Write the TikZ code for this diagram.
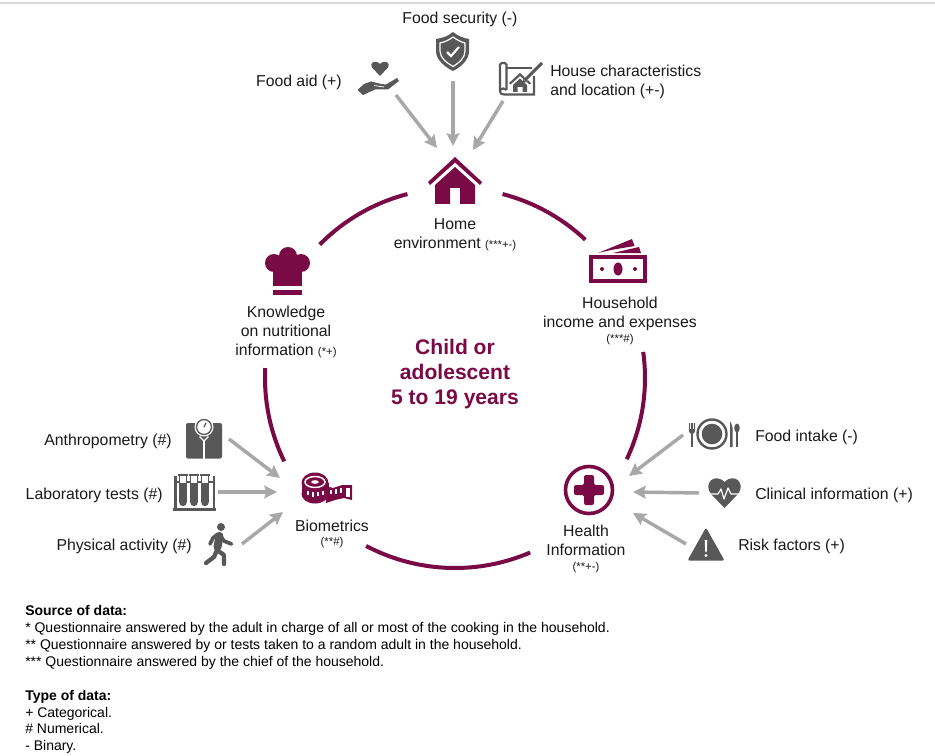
\documentclass[tikz,border=0pt]{standalone}
\usepackage{fontspec}
\setmainfont{Liberation Sans}
\usetikzlibrary{arrows.meta}
\definecolor{wine}{HTML}{7A0A45}
\definecolor{icongrey}{HTML}{585858}
\definecolor{arrowgrey}{HTML}{A8A8A8}
\definecolor{inktext}{HTML}{1A1A1A}
\newcommand{\tinyq}[1]{{\fontsize{8.5}{8.5}\selectfont #1}}
\tikzset{
  lbl/.style={text=inktext,inner sep=0pt,font=\fontsize{11.85}{14}\selectfont,align=center},
  lblw/.style={lbl,anchor=west,align=left},
  lble/.style={lbl,anchor=east,align=right},
  ring/.style={draw=wine,line width=3pt},
  feed/.style={draw=arrowgrey,line width=2.6pt,-{Stealth[length=9.5pt,width=9.5pt,inset=1.5pt]}},
  gicon/.style={fill=icongrey,draw=none},
  wicon/.style={fill=wine,draw=none},
  gline/.style={draw=icongrey,line width=1.6pt},
  wcut/.style={draw=white,line width=1pt}
}
\begin{document}
\begin{tikzpicture}[x=0.75pt,y=-0.75pt]
\useasboundingbox (0,0) rectangle (935,756);
\fill[white] (0,0) rectangle (935,756);
\draw[draw=black!15,line width=1.4pt] (0,3) -- (935,3);
% ring
\foreach \a/\b in {224.6/255.5,284.5/313.3,-7.9/25.3,66.7/117.9,154/183}{
  \draw[ring] plot[domain=\a:\b,samples=40,smooth] ({455+190*cos(\x)},{378+190*sin(\x)});
}
% ---------- wine icons
% home
\fill[wicon] (455,157)--(482,182)--(480,185)--(455,162.5)--(430,185)--(428,182)--cycle;
\fill[wicon] (455,167)--(475,185)--(475,204)--(460,204)--(460,188)--(450,188)--(450,204)--(435,204)--(435,185)--cycle;
% chef hat
\fill[wicon] (288,256) circle (9);
\fill[wicon] (274,263) circle (9);
\fill[wicon] (301,263) circle (9);
\fill[wicon] (273,262) rectangle (302,286);
\fill[wicon] (273,290) rectangle (302,295);
% money
\fill[wicon] (589,255) rectangle (647,283);
\fill[white] (593,259) rectangle (643,279);
\fill[wicon] (618,269) ellipse (4.5 and 6.5);
\fill[wicon] (602,269) circle (2);
\fill[wicon] (635,269) circle (2);
\fill[wicon] (598,253)--(632,239)--(634.5,246)--(611,250)--cycle;
\fill[wicon] (613,253)--(639,247)--(641,253)--cycle;
% tape measure
\fill[wicon] (326,486)--(333,488)--(342,485)--(352,485)--(352,500)--(344,498)--(335,500)--(326,503)--cycle;
\fill[wicon] (315,483) ellipse (13.5 and 10.5);
\fill[wicon] (301.5,483) rectangle (328.5,494);
\fill[wicon] (315,494) ellipse (13.5 and 9.5);
\draw[white,line width=1.1pt] (315,482) ellipse (10 and 5.5);
\fill[white] (315,482) ellipse (3.8 and 1.8);
\draw[white,line width=1.2pt] (308,491)--(308,495) (313,492)--(313,496.5) (318,492)--(318,496) (323,491)--(323,495);
\draw[white,line width=1.2pt] (331,490)--(331,494) (336,489)--(336,494) (341,488)--(341,493);
\fill[white] (346,488) rectangle (349.5,497);
% health
\draw[wine,line width=2.7pt] (589,490) circle (23.5);
\fill[wicon,rounded corners=1.5pt] (584,475)--(594,475)--(594,485)--(604,485)--(604,495)--(594,495)--(594,505)--(584,505)--(584,495)--(574,495)--(574,485)--(584,485)--cycle;
% ---------- grey icons
% hand + heart
\fill[gicon] (380,76)--(372,67.5) .. controls (369,63) and (375,59) .. (380,64) .. controls (385,59) and (391,63) .. (388,67.5)--cycle;
\fill[gicon] (357.5,90)--(364,84)--(371,81.5)--(381,84)--(386,84.5)--(397,78)--(399,81)--(388,89.5)--(375,89.5)--(363,95)--cycle;
\draw[white,line width=.6pt] (374,85.5)--(384,87);
% shield
\fill[gicon] (453,32) .. controls (458,36) and (463,38) .. (469,39) -- (469,51) .. controls (469,60) and (461,67) .. (453,71) .. controls (445,67) and (436,60) .. (436,51) -- (436,39) .. controls (443,38) and (448,36) .. (453,32) -- cycle;
\draw[white,line width=.9pt] (453,37) .. controls (457,40) and (461,42) .. (465,43) -- (465,51) .. controls (465,58) and (459,63) .. (453,66.5) .. controls (447,63) and (440,58) .. (440,51) -- (440,43) .. controls (445,42) and (449,40) .. (453,37) -- cycle;
\draw[white,line width=1.6pt] (447,52)--(451,56)--(459,47);
% house plan
\draw[gline,rounded corners=1.2pt] (500,91)--(500,63)--(506.5,63)--(506.5,90);
\draw[gline] (500,90) .. controls (500,94) and (502,94.5) .. (504,94.5) -- (534,94.5) -- (534,76);
\draw[gline] (506.5,90) .. controls (504,88) and (501.5,88) .. (500,90);
\draw[gline] (506.5,68)--(532,68);
\fill[gicon] (520,73)--(531,83)--(529.5,84.5)--(520,76)--(510.5,84.5)--(509,83)--cycle;
\fill[gicon] (520,78.5)--(527,85)--(527,92)--(522.5,92)--(522.5,87)--(517.5,87)--(517.5,92)--(513,92)--(513,85)--cycle;
\draw[white,line width=3.4pt] (526,79)--(541,64);
\draw[icongrey,line width=2.2pt] (525,80)--(542,63);
\fill[gicon] (522.5,83)--(523,79)--(526,82)--cycle;
% scale
\fill[gicon,rounded corners=1.5pt] (186,423) rectangle (222,458.5);
\draw[white,line width=.9pt] (204,440)--(204,459);
\fill[white] (204,427) circle (9.5);
\draw[icongrey,line width=1pt,fill=white] (204,427) circle (7.5);
\draw[icongrey,line width=1pt] (204,427)--(206,423);
\draw[white,line width=.9pt] (199.5,436.5)--(204,441)--(208.5,436.5);
% test tubes
\draw[gline] (173,509.5)--(216,509.5);
\draw[gline] (175.5,476)--(175.5,509.5) (214,476)--(214,509.5) (175.5,482)--(214,482);
\foreach \u in {183,194,205}{
  \draw[icongrey,line width=1pt] (\u-4.6,475)--(\u+4.6,475);
  \fill[white] (\u-4,476) rectangle (\u+4,490);
  \draw[icongrey,line width=1pt] (\u-3.6,475)--(\u-3.6,490) (\u+3.6,475)--(\u+3.6,490);
  \fill[gicon] (\u-3.9,483) -- (\u+3.9,483) -- (\u+3.9,502) .. controls (\u+3.9,507.5) and (\u-3.9,507.5) .. (\u-3.9,502) -- cycle;
}
% walking person
\fill[gicon] (221,527) circle (4);
\draw[icongrey,line width=6pt,line cap=round] (219.5,536)--(217.5,547);
\draw[icongrey,line width=2.8pt,line cap=round,line join=round] (219,534)--(224,541)--(231.5,544);
\draw[icongrey,line width=2.8pt,line cap=round,line join=round] (218,534)--(213,538)--(210,544);
\draw[icongrey,line width=3.2pt,line cap=round,line join=round] (217,550)--(224,555)--(224,564);
\draw[icongrey,line width=3.2pt,line cap=round,line join=round] (217,550)--(214,557)--(206,563);
% plate
\draw[icongrey,line width=1.8pt] (712,434) circle (14.5);
\fill[gicon] (712,434) circle (10.3);
\draw[icongrey,line width=1.5pt] (692,434)--(692,447);
\fill[gicon] (689,423) -- (689,431) .. controls (689,435) and (695,435) .. (695,431) -- (695,423) -- (694,423) -- (694,429) -- (693,429) -- (693,423) -- (691,423) -- (691,429) -- (690,429) -- (690,423) -- cycle;
\fill[gicon] (730,421) .. controls (733,426) and (733,431) .. (732.5,434) -- (732.5,447) -- (730,447) -- cycle;
\fill[gicon] (737,428) ellipse (2.8 and 4.5);
\draw[icongrey,line width=1.5pt] (737,430)--(737,447);
% heart
\fill[gicon] (724.5,508) -- (711,494) .. controls (703,484) and (714,472) .. (724.5,482) .. controls (735,472) and (746,484) .. (738,494) -- cycle;
\draw[white,line width=.9pt,line join=round] (710,494)--(718,494)--(721,489)--(724,499)--(728,488)--(731,494)--(739,494);
% warning
\fill[gicon,rounded corners=1.5pt] (706,527.5)--(724.5,560.5)--(687.5,560.5)--cycle;
\fill[white] (704.7,540) -- (707.3,540) -- (706.7,552) -- (705.3,552) -- cycle;
\fill[white] (706,555.5) circle (1.6);
% ---------- connectors
\coordinate (aidS) at (396,95);       \coordinate (aidE) at (437,148);
\coordinate (secS) at (453,81);       \coordinate (secE) at (453,146);
\coordinate (houS) at (503,101);      \coordinate (houE) at (473,150);
\coordinate (antS) at (229,439);      \coordinate (antE) at (280,478);
\coordinate (labS) at (218,492);      \coordinate (labE) at (277,492);
\coordinate (phyS) at (242,544);      \coordinate (phyE) at (283,512);
\coordinate (intS) at (683,435);      \coordinate (intE) at (629,476);
\coordinate (cliS) at (699,493);      \coordinate (cliE) at (633,492);
\coordinate (rskS) at (686,544);      \coordinate (rskE) at (633,513);
\foreach \p in {aid,sec,hou,ant,lab,phy,int,cli,rsk}{\draw[feed] (\p S) -- (\p E);}
% ---------- labels
\node[lbl] (tSec) at (460,19.5) {Food security (-)};
\node[lble] (tAid) at (342,82.5) {Food aid (+)};
\node[lblw] (tHou) at (550,82) {House characteristics\\and location (+-)};
\node[lbl] (tHome) at (455,235) {Home\\environment \tinyq{(***+-)}};
\node[lbl] (tKnow) at (286,332) {Knowledge\\on nutritional\\information \tinyq{(*+)}};
\node[lbl] (tInc) at (620,321) {Household\\income and expenses\\[-3pt]\tinyq{(***\#)}};
\node[lbl,text=wine,font=\fontsize{15.8}{18.7}\selectfont\bfseries] (tChild) at (455,374) {Child or\\adolescent\\5 to 19 years};
\node[lble] (tAnt) at (172,441.5) {Anthropometry (\#)};
\node[lble] (tLab) at (163,495.5) {Laboratory tests (\#)};
\node[lble] (tPhy) at (192,546.5) {Physical activity (\#)};
\node[lbl] (tBio) at (332,534) {Biometrics\\[-3.5pt]\tinyq{(**\#)}};
\node[lblw] (tInt) at (755,437.5) {Food intake (-)};
\node[lblw] (tCli) at (755,495.5) {Clinical information (+)};
\node[lblw] (tRsk) at (738,546.5) {Risk factors (+)};
\node[lbl] (tHea) at (586,549) {Health\\Information\\[-3pt]\tinyq{(**+-)}};
\node[anchor=north west,inner sep=0pt,align=left,text=black,font=\fontsize{10.5}{12.7}\selectfont] (tNote) at (25,605) {\textbf{Source of data:}\\
* Questionnaire answered by the adult in charge of all or most of the cooking in the household.\\
** Questionnaire answered by or tests taken to a random adult in the household.\\
*** Questionnaire answered by the chief of the household.\\[12.7pt]
\textbf{Type of data:}\\
+ Categorical.\\
\# Numerical.\\
- Binary.};
\end{tikzpicture}
\end{document}
